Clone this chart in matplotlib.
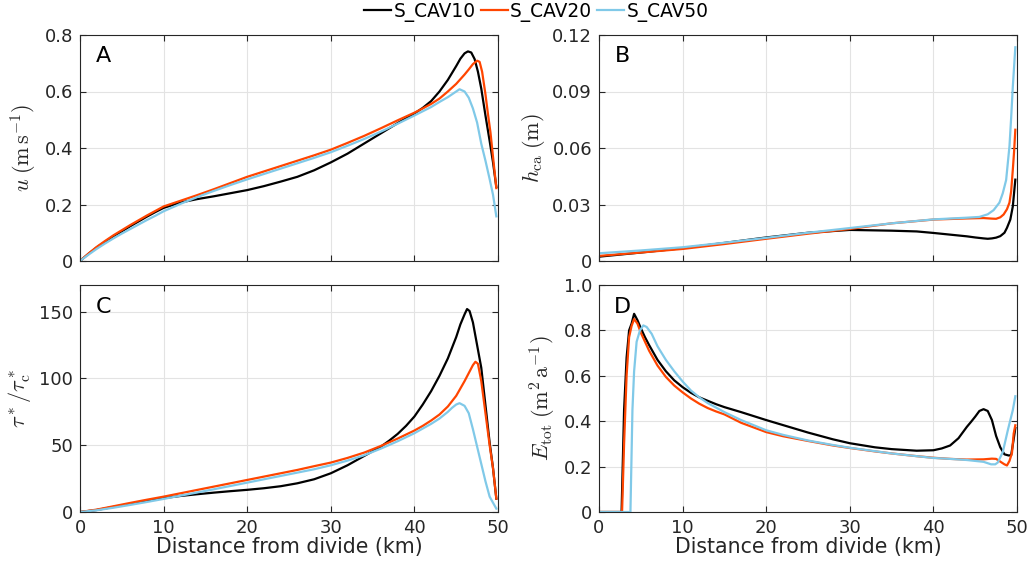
import matplotlib
matplotlib.use("Agg")
import matplotlib.pyplot as plt

# ---------------- data ----------------
labels = ["S_CAV10", "S_CAV20", "S_CAV50"]
colors = ["#000000", "#FF4500", "#80C9E8"]

# Panel A: u (m/s)
xa_10 = [0, 1, 2, 3, 4, 5, 6, 7, 8, 9, 10, 12, 14, 16, 18, 20, 22, 24, 26, 28, 30, 32, 34, 36, 38, 40,
         41, 42, 43, 44, 45, 45.5, 46, 46.4, 46.8, 47.2, 47.6, 48, 48.5, 49, 49.4, 49.8]
ua_10 = [0, 0.025, 0.048, 0.068, 0.088, 0.105, 0.123, 0.140, 0.157, 0.173, 0.188, 0.207, 0.219, 0.229,
         0.240, 0.251, 0.265, 0.281, 0.298, 0.321, 0.349, 0.380, 0.416, 0.452, 0.488, 0.522,
         0.542, 0.566, 0.600, 0.641, 0.690, 0.716, 0.735, 0.742, 0.738, 0.715, 0.670, 0.610, 0.515,
         0.425, 0.350, 0.262]
xa_20 = [0, 1, 2, 3, 4, 5, 6, 7, 8, 9, 10, 12, 14, 16, 18, 20, 22, 24, 26, 28, 30, 32, 34, 36, 38, 40,
         41, 42, 43, 44, 45, 46, 46.5, 47, 47.5, 47.8, 48.1, 48.5, 48.8, 49.1, 49.4, 49.8]
ua_20 = [0, 0.026, 0.050, 0.071, 0.091, 0.109, 0.127, 0.144, 0.161, 0.177, 0.193, 0.213, 0.233, 0.254,
         0.276, 0.298, 0.317, 0.336, 0.355, 0.374, 0.394, 0.418, 0.443, 0.470, 0.498, 0.525,
         0.540, 0.556, 0.575, 0.600, 0.627, 0.660, 0.678, 0.697, 0.709, 0.705, 0.670, 0.590, 0.520,
         0.455, 0.370, 0.258]
xa_50 = [0, 1, 2, 3, 4, 5, 6, 7, 8, 9, 10, 12, 14, 16, 18, 20, 22, 24, 26, 28, 30, 32, 34, 36, 38, 40,
         41, 42, 43, 44, 45, 45.4, 46, 46.5, 47, 47.5, 48, 48.5, 49, 49.4, 49.8]
ua_50 = [0, 0.022, 0.043, 0.062, 0.080, 0.097, 0.113, 0.129, 0.145, 0.160, 0.176, 0.202, 0.226, 0.248,
         0.269, 0.289, 0.308, 0.327, 0.346, 0.365, 0.385, 0.408, 0.432, 0.458, 0.486, 0.515,
         0.530, 0.545, 0.563, 0.580, 0.600, 0.608, 0.600, 0.578, 0.540, 0.490, 0.415, 0.355, 0.290,
         0.235, 0.158]

# Panel B: h_ca (m)
xb_10 = [0, 5, 10, 15, 20, 25, 30, 35, 38, 40, 42, 44, 45, 46, 46.5, 47, 47.5, 48, 48.5, 48.8, 49.2,
         49.5, 49.8]
hb_10 = [0.0023, 0.0045, 0.0068, 0.0096, 0.0125, 0.0150, 0.0165, 0.0161, 0.0157, 0.0149, 0.0140,
         0.0131, 0.0125, 0.0120, 0.0118, 0.0120, 0.0124, 0.0132, 0.0150, 0.0176, 0.0220, 0.0290, 0.0432]
xb_20 = [0, 5, 10, 15, 20, 25, 30, 35, 40, 44, 46, 47, 47.5, 48, 48.4, 48.8, 49.1, 49.3, 49.5, 49.65,
         49.8]
hb_20 = [0.0027, 0.0045, 0.0064, 0.0090, 0.0118, 0.0145, 0.0170, 0.0200, 0.0220, 0.0226, 0.0228,
         0.0225, 0.0224, 0.0232, 0.0247, 0.0275, 0.0310, 0.0370, 0.0485, 0.0580, 0.0697]
xb_50 = [0, 5, 10, 15, 20, 25, 30, 35, 40, 44, 45.5, 46.5, 47.2, 47.9, 48.3, 48.7, 49.1, 49.3, 49.5,
         49.65, 49.8]
hb_50 = [0.0041, 0.0056, 0.0073, 0.0097, 0.0123, 0.0150, 0.0175, 0.0200, 0.0221, 0.0230, 0.0234,
         0.0248, 0.0270, 0.0310, 0.0360, 0.0430, 0.0610, 0.0760, 0.0926, 0.1030, 0.1135]

# Panel C: tau*/tau*_c
xc_10 = [0, 2, 4, 6, 8, 10, 12, 14, 16, 18, 20, 22, 24, 26, 28, 30, 32, 34, 36, 37, 38, 39, 40, 41, 42,
         43, 44, 45, 45.5, 46, 46.3, 46.6, 47, 47.5, 48, 48.5, 49, 49.4, 49.8]
tc_10 = [0, 1.5, 3.8, 6.0, 8.3, 10.4, 12.0, 13.3, 14.5, 15.6, 16.6, 17.8, 19.3, 21.5, 24.5, 29.0, 35.0,
         42.0, 49.0, 53.5, 58.5, 64.5, 71.5, 80.5, 90.5, 102.0, 115.0, 131.0, 140.5, 148.0, 152.0,
         150.5, 142.0, 125.0, 108.0, 80.0, 52.0, 33.0, 10.0]
xc_20 = [0, 2, 4, 6, 8, 10, 12, 14, 16, 18, 20, 22, 24, 26, 28, 30, 32, 34, 36, 38, 40, 41, 42, 43, 44,
         45, 46, 46.5, 47, 47.3, 47.6, 48, 48.5, 49, 49.4, 49.8]
tc_20 = [0, 1.8, 4.3, 6.8, 9.2, 11.5, 14.0, 16.5, 19.0, 21.5, 24.0, 26.5, 29.0, 31.5, 34.3, 37.0, 40.5,
         44.5, 49.5, 55.0, 61.0, 64.5, 68.5, 73.0, 79.0, 87.0, 98.0, 104.0, 110.0, 112.5, 111.0, 98.0,
         74.0, 50.0, 33.0, 10.0]
xc_50 = [0, 2, 4, 6, 8, 10, 12, 14, 16, 18, 20, 22, 24, 26, 28, 30, 32, 34, 36, 38, 40, 41, 42, 43, 44,
         44.5, 45, 45.4, 46, 46.5, 47, 47.5, 48, 48.5, 49, 49.4, 49.8]
tc_50 = [0, 1.3, 3.2, 5.3, 7.5, 9.8, 12.2, 14.6, 17.0, 19.5, 22.0, 24.5, 27.0, 29.5, 32.0, 35.0, 38.5,
         42.5, 47.5, 53.0, 59.0, 62.5, 66.0, 70.0, 75.0, 78.0, 80.5, 81.5, 79.5, 74.0, 62.0, 49.0,
         36.0, 23.0, 11.5, 7.0, 2.5]

# Panel D: E_tot (m^2/a)
xd_10 = [0, 2.7, 3.0, 3.3, 3.6, 3.9, 4.2, 4.6, 5.0, 5.5, 6, 7, 8, 9, 10, 11, 12, 13, 14, 15, 17, 20,
         22, 25, 28, 30, 33, 35, 38, 40, 41, 42, 43, 44, 44.5, 45, 45.5, 46, 46.5, 47, 47.5, 48, 48.5,
         49, 49.3, 49.6, 49.8]
ed_10 = [0, 0, 0.45, 0.68, 0.80, 0.83, 0.873, 0.845, 0.81, 0.77, 0.735, 0.67, 0.62, 0.58, 0.55, 0.525,
         0.505, 0.49, 0.475, 0.462, 0.44, 0.405, 0.383, 0.35, 0.32, 0.303, 0.285, 0.277, 0.27, 0.272,
         0.28, 0.293, 0.325, 0.375, 0.397, 0.42, 0.445, 0.453, 0.445, 0.405, 0.335, 0.285, 0.254,
         0.249, 0.25, 0.32, 0.37]
xd_20 = [0, 2.76, 3.0, 3.3, 3.6, 3.9, 4.2, 4.6, 5.0, 5.5, 6, 7, 8, 9, 10, 11, 12, 13, 14, 15, 17, 20,
         22, 25, 28, 30, 33, 35, 38, 40, 42, 44, 46, 47, 47.5, 48, 48.5, 48.8, 49.1, 49.4, 49.6, 49.8]
ed_20 = [0, 0, 0.30, 0.60, 0.77, 0.82, 0.85, 0.83, 0.79, 0.75, 0.71, 0.645, 0.595, 0.557, 0.527, 0.50,
         0.477, 0.458, 0.443, 0.43, 0.393, 0.352, 0.334, 0.313, 0.293, 0.282, 0.267, 0.258, 0.246, 0.239,
         0.234, 0.231, 0.232, 0.235, 0.234, 0.222, 0.21, 0.205, 0.225, 0.26, 0.345, 0.382]
xd_50 = [0, 3.76, 4.0, 4.2, 4.5, 4.9, 5.3, 5.7, 6.3, 7, 8, 9, 10, 11, 12, 13, 14, 15, 17, 20, 22, 25,
         28, 30, 33, 35, 38, 40, 42, 44, 46, 46.9, 47.4, 47.7, 48.3, 48.9, 49.5, 49.8]
ed_50 = [0, 0, 0.45, 0.62, 0.75, 0.80, 0.822, 0.815, 0.785, 0.73, 0.67, 0.62, 0.575, 0.535, 0.505,
         0.48, 0.46, 0.44, 0.405, 0.36, 0.34, 0.315, 0.295, 0.283, 0.268, 0.258, 0.246, 0.238, 0.234,
         0.229, 0.221, 0.21, 0.21, 0.218, 0.264, 0.36, 0.449, 0.51]

xticks = [0, 10, 20, 30, 40, 50]
yticks_a = [0, 0.2, 0.4, 0.6, 0.8]
ytick_labels_a = ["0", "0.2", "0.4", "0.6", "0.8"]
yticks_b = [0, 0.03, 0.06, 0.09, 0.12]
ytick_labels_b = ["0", "0.03", "0.06", "0.09", "0.12"]
yticks_c = [0, 50, 100, 150]
ytick_labels_c = ["0", "50", "100", "150"]
yticks_d = [0, 0.2, 0.4, 0.6, 0.8, 1.0]
ytick_labels_d = ["0", "0.2", "0.4", "0.6", "0.8", "1.0"]

# ---------------- style ----------------
plt.rcParams["font.family"] = ["DejaVu Sans"]
plt.rcParams["mathtext.fontset"] = "cm"
TXT = "#262626"

fig = plt.figure(figsize=(10.31, 5.70), dpi=100)
W, H = 1031, 570

def make_ax(l, t, r, b):
    return fig.add_axes([l / W, 1 - b / H, (r - l) / W, (b - t) / H])

axA = make_ax(80, 35, 498, 261)
axB = make_ax(599, 35, 1017, 261)
axC = make_ax(80, 285, 498, 512)
axD = make_ax(599, 285, 1017, 512)

panels = [
    (axA, [(xa_10, ua_10), (xa_20, ua_20), (xa_50, ua_50)], (0, 0.8), yticks_a, ytick_labels_a,
     r"$u\;(\mathrm{m\,s^{-1}})$", "A", False),
    (axB, [(xb_10, hb_10), (xb_20, hb_20), (xb_50, hb_50)], (0, 0.12), yticks_b, ytick_labels_b,
     r"$h_{\mathrm{ca}}\;(\mathrm{m})$", "B", False),
    (axC, [(xc_10, tc_10), (xc_20, tc_20), (xc_50, tc_50)], (0, 170), yticks_c, ytick_labels_c,
     r"$\tau^*/\tau^*_{\mathrm{c}}$", "C", True),
    (axD, [(xd_10, ed_10), (xd_20, ed_20), (xd_50, ed_50)], (0, 1.0), yticks_d, ytick_labels_d,
     r"$E_{\mathrm{tot}}\;(\mathrm{m^2\,a^{-1}})$", "D", True),
]

handles = []
for ax, series, ylim, yt, ytl, ylab, letter, bottom in panels:
    for (xs, ys), c, lab in zip(series, colors, labels):
        h, = ax.plot(xs, ys, color=c, lw=1.6, label=lab, solid_joinstyle="round")
        if ax is axA:
            handles.append(h)
    ax.set_xlim(0, 50)
    ax.set_ylim(*ylim)
    ax.set_xticks(xticks)
    ax.set_yticks(yt)
    ax.set_yticklabels(ytl)
    if bottom:
        ax.set_xticklabels([str(v) for v in xticks])
        ax.set_xlabel("Distance from divide (km)", fontsize=14.8, color=TXT, labelpad=0)
    else:
        ax.set_xticklabels([])
    ax.set_ylabel(ylab, fontsize=16, color=TXT, labelpad=4)
    ax.grid(True, color="#e3e3e3", lw=0.8)
    ax.set_axisbelow(True)
    ax.tick_params(direction="in", top=True, right=True, length=4, width=0.8,
                   labelsize=13, colors=TXT, pad=5)
    for sp in ax.spines.values():
        sp.set_color(TXT)
        sp.set_linewidth(0.8)
    ax.text(0.056, 0.905, letter, transform=ax.transAxes, fontsize=16, color="black",
            ha="center", va="center")

fig.legend(handles=handles, labels=labels, loc="center", bbox_to_anchor=(536.5 / W, 1 - 12 / H),
           ncol=3, frameon=False, fontsize=13.4, handlelength=1.45, handletextpad=0.12,
           columnspacing=0.28, borderaxespad=0, borderpad=0)

fig.savefig("out.png", dpi=100)
